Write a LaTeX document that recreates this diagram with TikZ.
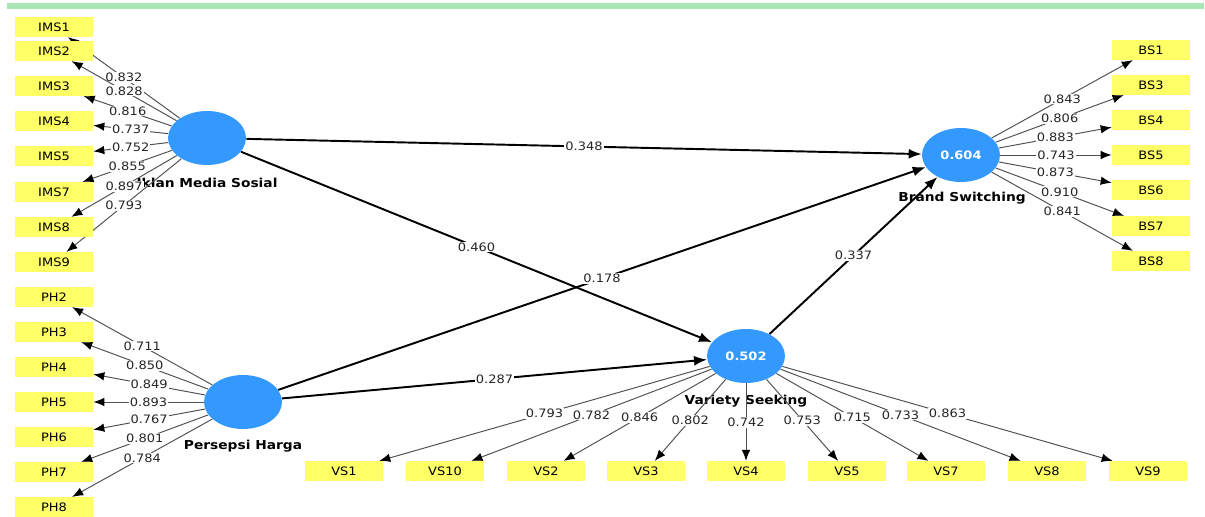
\documentclass[tikz,border=0pt]{standalone}
\usepackage{fontspec}
\setmainfont{DejaVu Sans}[FakeStretch=1.12]
\usepackage{tikz}
\usetikzlibrary{arrows.meta,shapes.geometric}
\usepackage{xcolor}
\definecolor{plsblue}{RGB}{51,153,255}
\definecolor{plsyellow}{RGB}{255,255,102}
\definecolor{plsgray}{RGB}{80,80,80}
\definecolor{plsgreen}{RGB}{168,230,180}
\newcommand{\plsfont}{\fontsize{6.6}{7.6}\selectfont}
\newcommand{\lvfont}{\fontsize{7}{8}\selectfont\bfseries}
\tikzstyle{loading} = [line width=0.55pt, draw=plsgray, -{Latex[length=0.22cm,width=0.17cm,color=black]}]
\tikzstyle{structural} = [line width=1.1pt, draw=black, -{Latex[length=0.26cm,width=0.2cm]}]
\pgfdeclarelayer{front}
\pgfsetlayers{main,front}

\begin{document}
\begin{tikzpicture}[
    x=0.02cm, y=-0.02cm,
    every node/.style={font=\plsfont},
    ind/.style={rectangle, fill=plsyellow, minimum width=1.56cm, minimum height=0.39cm, inner sep=0pt},
    lv/.style={ellipse, fill=plsblue, minimum width=1.56cm, minimum height=1.08cm, inner sep=0pt, text=white, font=\plsfont\bfseries},
    lvname/.style={font=\lvfont},
    wt/.style={fill=white, inner sep=0.6pt, text=black!85}
]

\fill[white] (0,0) rectangle (1205,517);
\useasboundingbox (0,0) rectangle (1205,517);
\fill[plsgreen] (7,3) rectangle (1204,9);

\begin{pgfonlayer}{front}
% Latent variables
\node[lv] (ims) at (207,138) {};
\node[lv] (ph) at (243,402) {};
\node[lv] (vs) at (746,356) {0.502};
\node[lv] (bs) at (961,155) {0.604};

% Indicators Iklan Media Sosial (left, top)
\node[ind] (ims1) at (54,27) {IMS1};
\node[ind] (ims2) at (54,51) {IMS2};
\node[ind] (ims3) at (54,86) {IMS3};
\node[ind] (ims4) at (54,121) {IMS4};
\node[ind] (ims5) at (54,156) {IMS5};
\node[ind] (ims7) at (54,192) {IMS7};
\node[ind] (ims8) at (54,227) {IMS8};
\node[ind] (ims9) at (54,262) {IMS9};

% Indicators Persepsi Harga (left, bottom)
\node[ind] (ph2) at (54,297) {PH2};
\node[ind] (ph3) at (54,332) {PH3};
\node[ind] (ph4) at (54,367) {PH4};
\node[ind] (ph5) at (54,402) {PH5};
\node[ind] (ph6) at (54,437) {PH6};
\node[ind] (ph7) at (54,472) {PH7};
\node[ind] (ph8) at (54,507) {PH8};

% Indicators Brand Switching (right)
\node[ind] (bs1) at (1151,50) {BS1};
\node[ind] (bs3) at (1151,85) {BS3};
\node[ind] (bs4) at (1151,120) {BS4};
\node[ind] (bs5) at (1151,155) {BS5};
\node[ind] (bs6) at (1151,190) {BS6};
\node[ind] (bs7) at (1151,226) {BS7};
\node[ind] (bs8) at (1151,261) {BS8};

% Indicators Variety Seeking (bottom)
\node[ind] (vs1) at (344,471) {VS1};
\node[ind] (vs10) at (445,471) {VS10};
\node[ind] (vs2) at (546,471) {VS2};
\node[ind] (vs3) at (646,471) {VS3};
\node[ind] (vs4) at (746,471) {VS4};
\node[ind] (vs5) at (847,471) {VS5};
\node[ind] (vs7) at (946,471) {VS7};
\node[ind] (vs8) at (1047,471) {VS8};
\node[ind] (vs9) at (1148,471) {VS9};
\end{pgfonlayer}

% Names of latent variables
\node[lvname] (imsname) at (207,183) {Iklan Media Sosial};
\node[lvname] (phname) at (243,446) {Persepsi Harga};
\node[lvname] (vsname) at (746,401) {Variety Seeking};
\node[lvname] (bsname) at (962,198) {Brand Switching};

% Outer loadings
\draw[loading] (ims) -- node[wt]{0.832} (ims1);
\draw[loading] (ims) -- node[wt]{0.828} (ims2);
\draw[loading] (ims) -- node[wt]{0.816} (ims3);
\draw[loading] (ims) -- node[wt]{0.737} (ims4);
\draw[loading] (ims) -- node[wt]{0.752} (ims5);
\draw[loading] (ims) -- node[wt]{0.855} (ims7);
\draw[loading] (ims) -- node[wt]{0.897} (ims8);
\draw[loading] (ims) -- node[wt]{0.793} (ims9);

\draw[loading] (ph) -- node[wt]{0.711} (ph2);
\draw[loading] (ph) -- node[wt]{0.850} (ph3);
\draw[loading] (ph) -- node[wt]{0.849} (ph4);
\draw[loading] (ph) -- node[wt]{0.893} (ph5);
\draw[loading] (ph) -- node[wt]{0.767} (ph6);
\draw[loading] (ph) -- node[wt]{0.801} (ph7);
\draw[loading] (ph) -- node[wt]{0.784} (ph8);

\draw[loading] (bs) -- node[wt]{0.843} (bs1);
\draw[loading] (bs) -- node[wt]{0.806} (bs3);
\draw[loading] (bs) -- node[wt]{0.883} (bs4);
\draw[loading] (bs) -- node[wt]{0.743} (bs5);
\draw[loading] (bs) -- node[wt]{0.873} (bs6);
\draw[loading] (bs) -- node[wt]{0.910} (bs7);
\draw[loading] (bs) -- node[wt]{0.841} (bs8);

\draw[loading] (vs) -- node[wt]{0.793} (vs1);
\draw[loading] (vs) -- node[wt]{0.782} (vs10);
\draw[loading] (vs) -- node[wt]{0.846} (vs2);
\draw[loading] (vs) -- node[wt]{0.802} (vs3);
\draw[loading] (vs) -- node[wt]{0.742} (vs4);
\draw[loading] (vs) -- node[wt]{0.753} (vs5);
\draw[loading] (vs) -- node[wt]{0.715} (vs7);
\draw[loading] (vs) -- node[wt]{0.733} (vs8);
\draw[loading] (vs) -- node[wt]{0.863} (vs9);

% Path coefficients
\draw[structural] (ims) -- node[wt]{0.348} (bs);
\draw[structural] (ims) -- node[wt]{0.460} (vs);
\draw[structural] (ph) -- node[wt]{0.178} (bs);
\draw[structural] (ph) -- node[wt]{0.287} (vs);
\draw[structural] (vs) -- node[wt]{0.337} (bs);

\end{tikzpicture}
\end{document}
